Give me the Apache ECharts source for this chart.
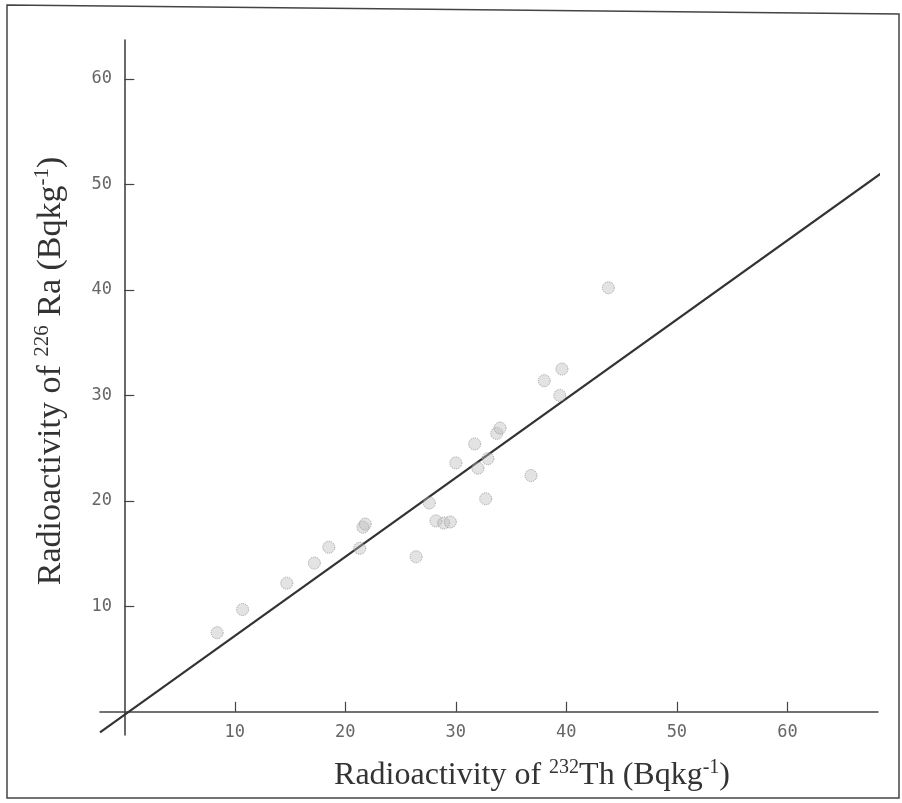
<!DOCTYPE html>
<html>
<head>
<meta charset="utf-8">
<script src="https://cdn.jsdelivr.net/npm/echarts@6/dist/echarts.min.js"></script>
<style>
html,body{margin:0;padding:0;background:#fff;}
#chart{width:902px;height:803px;}
</style>
</head>
<body>
<div id="chart"></div>
<script>
// Data
const thValues = [8.4, 10.7, 14.7, 17.2, 18.5, 21.3, 21.6, 21.8, 26.4, 27.6, 28.2, 28.9, 29.5, 30.0, 31.7, 32.0, 32.7, 32.9, 33.7, 34.0, 36.8, 38.0, 39.4, 39.6, 43.8];
const raValues = [7.5, 9.7, 12.2, 14.1, 15.6, 15.5, 17.5, 17.8, 14.7, 19.8, 18.1, 17.9, 18.0, 23.6, 25.4, 23.1, 20.2, 24.0, 26.4, 26.9, 22.4, 31.4, 30.0, 32.5, 40.2];
const fitX = [-2.2, 68.8];
const fitY = [-1.95, 51.3];
const xTicks = [10, 20, 30, 40, 50, 60];
const yTicks = [10, 20, 30, 40, 50, 60];

const scatterData = thValues.map((x, i) => [x, raValues[i]]);
const lineData = fitX.map((x, i) => [x, fitY[i]]);

const chart = echarts.init(document.getElementById('chart'), null, {renderer: 'canvas'});
const tickFont = {fontFamily: 'DejaVu Sans Mono', fontSize: 17, color: '#666'};

chart.setOption({
  animation: false,
  backgroundColor: '#fff',
  grid: {left: 100, top: 40, width: 778, height: 695, containLabel: false},
  xAxis: {
    type: 'value', min: -2.2, max: 68.2,
    axisLine: {show: true, onZero: true, lineStyle: {color: '#444', width: 1.6}},
    axisTick: {show: true, inside: true, length: 10, customValues: xTicks, lineStyle: {color: '#444', width: 1.2}},
    axisLabel: Object.assign({show: true, margin: -11, customValues: xTicks}, tickFont),
    splitLine: {show: false}
  },
  yAxis: {
    type: 'value', min: -2.2, max: 63.7,
    axisLine: {show: true, onZero: true, lineStyle: {color: '#444', width: 1.6}},
    axisTick: {show: true, inside: true, length: 10, customValues: yTicks, lineStyle: {color: '#444', width: 1.2}},
    axisLabel: Object.assign({show: true, margin: -12, customValues: yTicks}, tickFont),
    splitLine: {show: false}
  },
  series: [
    {
      type: 'line', data: lineData, showSymbol: false, clip: false,
      lineStyle: {color: '#333', width: 2.2}, z: 3
    },
    {
      type: 'scatter', data: scatterData, symbol: 'circle', symbolSize: 12,
      itemStyle: {color: 'rgba(185,185,185,0.5)', borderColor: '#8a8a8a', borderWidth: 1, borderType: 'dotted'},
      z: 4
    }
  ],
  graphic: [
    {
      type: 'polygon', silent: true,
      shape: {points: [[7, 5], [899, 14], [899, 798], [7, 798]]},
      style: {fill: null, stroke: '#444', lineWidth: 1.5}
    },
    {
      type: 'text', silent: true,
      x: 532, y: 776,
      style: {
        x: 0, y: 0,
        text: 'Radioactivity of {sup|232}Th (Bqkg{sup|-1})',
        align: 'center', verticalAlign: 'middle',
        fontFamily: 'Liberation Serif', fontSize: 32, fill: '#333',
        rich: {sup: {fontFamily: 'Liberation Serif', fontSize: 20, verticalAlign: 'top', padding: [0, 0, 16, 0]}}
      }
    },
    {
      type: 'text', silent: true,
      x: 51, y: 371, rotation: Math.PI / 2,
      style: {
        x: 0, y: 0,
        text: 'Radioactivity of {sup|226} Ra (Bqkg{sup|-1})',
        align: 'center', verticalAlign: 'middle',
        fontFamily: 'Liberation Serif', fontSize: 34, fill: '#333',
        rich: {sup: {fontFamily: 'Liberation Serif', fontSize: 21, verticalAlign: 'top', padding: [0, 0, 17, 0]}}
      }
    }
  ]
});
</script>
</body>
</html>
